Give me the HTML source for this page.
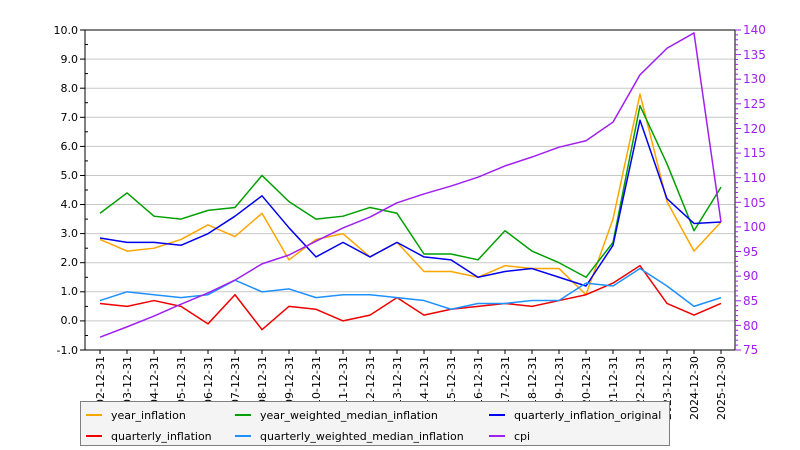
<!DOCTYPE html>
<html><head><meta charset="utf-8"><style>
html,body{margin:0;padding:0;background:#fff;}
svg{display:block;font-family:"DejaVu Sans","Liberation Sans",sans-serif;}
</style></head><body>
<svg width="800" height="450" viewBox="0 0 800 450" xmlns="http://www.w3.org/2000/svg">
<rect width="800" height="450" fill="#fff"/>
<g stroke="#c8c8c8" stroke-width="1">
<line x1="85" x2="735" y1="59.1" y2="59.1"/><line x1="85" x2="735" y1="88.2" y2="88.2"/>
<line x1="85" x2="735" y1="117.3" y2="117.3"/><line x1="85" x2="735" y1="146.4" y2="146.4"/>
<line x1="85" x2="735" y1="175.5" y2="175.5"/><line x1="85" x2="735" y1="204.5" y2="204.5"/>
<line x1="85" x2="735" y1="233.6" y2="233.6"/><line x1="85" x2="735" y1="262.7" y2="262.7"/>
<line x1="85" x2="735" y1="291.8" y2="291.8"/><line x1="85" x2="735" y1="320.9" y2="320.9"/>
</g>
<g fill="none" stroke-width="1.5" stroke-linejoin="round">
<g transform="translate(100,320.91) scale(27,-29.09)">
<polyline vector-effect="non-scaling-stroke" stroke="#ffa500" points="0,2.8 1,2.4 2,2.5 3,2.8 4,3.3 5,2.9 6,3.7 7,2.1 8,2.8 9,3.0 10,2.2 11,2.7 12,1.7 13,1.7 14,1.5 15,1.9 16,1.8 17,1.8 18,0.9 19,3.5 20,7.8 21,4.1 22,2.4 23,3.4"/>
<polyline vector-effect="non-scaling-stroke" stroke="#00a000" points="0,3.7 1,4.4 2,3.6 3,3.5 4,3.8 5,3.9 6,5.0 7,4.1 8,3.5 9,3.6 10,3.9 11,3.7 12,2.3 13,2.3 14,2.1 15,3.1 16,2.4 17,2.0 18,1.5 19,2.7 20,7.4 21,5.4 22,3.1 23,4.6"/>
<polyline vector-effect="non-scaling-stroke" stroke="#0000ee" points="0,2.85 1,2.7 2,2.7 3,2.6 4,3.0 5,3.6 6,4.3 7,3.2 8,2.2 9,2.7 10,2.2 11,2.7 12,2.2 13,2.1 14,1.5 15,1.7 16,1.8 17,1.5 18,1.2 19,2.6 20,6.9 21,4.2 22,3.35 23,3.4"/>
<polyline vector-effect="non-scaling-stroke" stroke="#ee0000" points="0,0.6 1,0.5 2,0.7 3,0.5 4,-0.1 5,0.9 6,-0.3 7,0.5 8,0.4 9,0.0 10,0.2 11,0.8 12,0.2 13,0.4 14,0.5 15,0.6 16,0.5 17,0.7 18,0.9 19,1.3 20,1.9 21,0.6 22,0.2 23,0.6"/>
<polyline vector-effect="non-scaling-stroke" stroke="#1e90ff" points="0,0.7 1,1.0 2,0.9 3,0.8 4,0.9 5,1.4 6,1.0 7,1.1 8,0.8 9,0.9 10,0.9 11,0.8 12,0.7 13,0.4 14,0.6 15,0.6 16,0.7 17,0.7 18,1.3 19,1.2 20,1.8 21,1.2 22,0.5 23,0.8"/>
</g>
<g transform="translate(100,719.23) scale(27,-4.923)">
<polyline vector-effect="non-scaling-stroke" stroke="#a020f0" points="0,77.6 1,79.7 2,81.9 3,84.3 4,86.6 5,89.2 6,92.5 7,94.3 8,97.1 9,99.8 10,102 11,104.9 12,106.7 13,108.3 14,110.1 15,112.4 16,114.2 17,116.2 18,117.5 19,121.3 20,130.9 21,136.3 22,139.4 23,101"/>
</g>
</g>
<rect x="85" y="30" width="650" height="320" fill="none" stroke="#000" stroke-width="1"/>
<g stroke="#000">
<line x1="80" x2="85" y1="30" y2="30"/><line x1="80" x2="85" y1="59.1" y2="59.1"/><line x1="80" x2="85" y1="88.2" y2="88.2"/><line x1="80" x2="85" y1="117.3" y2="117.3"/><line x1="80" x2="85" y1="146.4" y2="146.4"/><line x1="80" x2="85" y1="175.5" y2="175.5"/><line x1="80" x2="85" y1="204.5" y2="204.5"/><line x1="80" x2="85" y1="233.6" y2="233.6"/><line x1="80" x2="85" y1="262.7" y2="262.7"/><line x1="80" x2="85" y1="291.8" y2="291.8"/><line x1="80" x2="85" y1="320.9" y2="320.9"/><line x1="80" x2="85" y1="350" y2="350"/>
<line x1="85" x2="88" y1="44.5" y2="44.5"/><line x1="85" x2="88" y1="73.6" y2="73.6"/><line x1="85" x2="88" y1="102.7" y2="102.7"/><line x1="85" x2="88" y1="131.8" y2="131.8"/><line x1="85" x2="88" y1="160.9" y2="160.9"/><line x1="85" x2="88" y1="190" y2="190"/><line x1="85" x2="88" y1="219.1" y2="219.1"/><line x1="85" x2="88" y1="248.2" y2="248.2"/><line x1="85" x2="88" y1="277.3" y2="277.3"/><line x1="85" x2="88" y1="306.4" y2="306.4"/><line x1="85" x2="88" y1="335.5" y2="335.5"/>
</g>
<g fill="#000" font-size="11" text-anchor="end">
<text x="78" y="34">10.0</text><text x="78" y="63">9.0</text><text x="78" y="92">8.0</text><text x="78" y="121">7.0</text><text x="78" y="150">6.0</text><text x="78" y="179">5.0</text><text x="78" y="208">4.0</text><text x="78" y="237">3.0</text><text x="78" y="266">2.0</text><text x="78" y="295">1.0</text><text x="78" y="324">0.0</text><text x="78" y="354">-1.0</text>
</g>
<g stroke="#a020f0">
<line x1="735" x2="741" y1="30" y2="30"/><line x1="735" x2="741" y1="54.6" y2="54.6"/><line x1="735" x2="741" y1="79.2" y2="79.2"/><line x1="735" x2="741" y1="103.8" y2="103.8"/><line x1="735" x2="741" y1="128.5" y2="128.5"/><line x1="735" x2="741" y1="153.1" y2="153.1"/><line x1="735" x2="741" y1="177.7" y2="177.7"/><line x1="735" x2="741" y1="202.3" y2="202.3"/><line x1="735" x2="741" y1="226.9" y2="226.9"/><line x1="735" x2="741" y1="251.5" y2="251.5"/><line x1="735" x2="741" y1="276.2" y2="276.2"/><line x1="735" x2="741" y1="300.8" y2="300.8"/><line x1="735" x2="741" y1="325.4" y2="325.4"/><line x1="735" x2="741" y1="350" y2="350"/>
</g>
<path d="M735 34.9h3M735 39.8h3M735 44.8h3M735 49.7h3M735 59.5h3M735 64.4h3M735 69.4h3M735 74.3h3M735 84.1h3M735 89.1h3M735 94h3M735 98.9h3M735 108.8h3M735 113.7h3M735 118.6h3M735 123.5h3M735 133.4h3M735 138.3h3M735 143.2h3M735 148.2h3M735 158h3M735 162.9h3M735 167.9h3M735 172.8h3M735 182.6h3M735 187.6h3M735 192.5h3M735 197.4h3M735 207.2h3M735 212.2h3M735 217.1h3M735 222h3M735 231.8h3M735 236.8h3M735 241.7h3M735 246.6h3M735 256.5h3M735 261.4h3M735 266.3h3M735 271.2h3M735 281.1h3M735 286h3M735 290.9h3M735 295.9h3M735 305.7h3M735 310.6h3M735 315.6h3M735 320.5h3M735 330.3h3M735 335.3h3M735 340.2h3M735 345.1h3" stroke="#a020f0"/>
<g fill="#a020f0" font-size="12">
<text x="743" y="34">140</text><text x="743" y="59">135</text><text x="743" y="83">130</text><text x="743" y="108">125</text><text x="743" y="133">120</text><text x="743" y="157">115</text><text x="743" y="182">110</text><text x="743" y="207">105</text><text x="743" y="231">100</text><text x="743" y="256">95</text><text x="743" y="280">90</text><text x="743" y="305">85</text><text x="743" y="330">80</text><text x="743" y="354">75</text>
</g>
<g stroke="#000">
<line x1="100" x2="100" y1="350" y2="354"/><line x1="127" x2="127" y1="350" y2="354"/><line x1="154" x2="154" y1="350" y2="354"/><line x1="181" x2="181" y1="350" y2="354"/><line x1="208" x2="208" y1="350" y2="354"/><line x1="235" x2="235" y1="350" y2="354"/><line x1="262" x2="262" y1="350" y2="354"/><line x1="289" x2="289" y1="350" y2="354"/><line x1="316" x2="316" y1="350" y2="354"/><line x1="343" x2="343" y1="350" y2="354"/><line x1="370" x2="370" y1="350" y2="354"/><line x1="397" x2="397" y1="350" y2="354"/><line x1="424" x2="424" y1="350" y2="354"/><line x1="451" x2="451" y1="350" y2="354"/><line x1="478" x2="478" y1="350" y2="354"/><line x1="505" x2="505" y1="350" y2="354"/><line x1="532" x2="532" y1="350" y2="354"/><line x1="559" x2="559" y1="350" y2="354"/><line x1="586" x2="586" y1="350" y2="354"/><line x1="613" x2="613" y1="350" y2="354"/><line x1="640" x2="640" y1="350" y2="354"/><line x1="667" x2="667" y1="350" y2="354"/><line x1="694" x2="694" y1="350" y2="354"/><line x1="721" x2="721" y1="350" y2="354"/>
</g>
<g fill="#000" font-size="11" text-anchor="end">
<text transform="translate(104,356) rotate(-90)">2002-12-31</text><text transform="translate(131,356) rotate(-90)">2003-12-31</text><text transform="translate(158,356) rotate(-90)">2004-12-31</text><text transform="translate(185,356) rotate(-90)">2005-12-31</text><text transform="translate(212,356) rotate(-90)">2006-12-31</text><text transform="translate(239,356) rotate(-90)">2007-12-31</text><text transform="translate(266,356) rotate(-90)">2008-12-31</text><text transform="translate(293,356) rotate(-90)">2009-12-31</text><text transform="translate(320,356) rotate(-90)">2010-12-31</text><text transform="translate(347,356) rotate(-90)">2011-12-31</text><text transform="translate(374,356) rotate(-90)">2012-12-31</text><text transform="translate(401,356) rotate(-90)">2013-12-31</text><text transform="translate(428,356) rotate(-90)">2014-12-31</text><text transform="translate(455,356) rotate(-90)">2015-12-31</text><text transform="translate(482,356) rotate(-90)">2016-12-31</text><text transform="translate(509,356) rotate(-90)">2017-12-31</text><text transform="translate(536,356) rotate(-90)">2018-12-31</text><text transform="translate(563,356) rotate(-90)">2019-12-31</text><text transform="translate(590,356) rotate(-90)">2020-12-31</text><text transform="translate(617,356) rotate(-90)">2021-12-31</text><text transform="translate(644,356) rotate(-90)">2022-12-31</text><text transform="translate(671,356) rotate(-90)">2023-12-31</text><text transform="translate(698,356) rotate(-90)">2024-12-30</text><text transform="translate(725,356) rotate(-90)">2025-12-30</text>
</g>
<rect x="80.5" y="401.5" width="589" height="44" fill="#f4f4f4" stroke="#808080"/>
<g stroke-width="2">
<line x1="86" x2="102" y1="415" y2="415" stroke="#ffa500"/><line x1="235" x2="251" y1="415" y2="415" stroke="#00a000"/><line x1="489" x2="505" y1="415" y2="415" stroke="#0000ee"/>
<line x1="86" x2="102" y1="436" y2="436" stroke="#ee0000"/><line x1="235" x2="251" y1="436" y2="436" stroke="#1e90ff"/><line x1="489" x2="505" y1="436" y2="436" stroke="#a020f0"/>
</g>
<g fill="#000" font-size="11">
<text x="111" y="419">year_inflation</text><text x="260" y="419">year_weighted_median_inflation</text><text x="514" y="419">quarterly_inflation_original</text>
<text x="111" y="440">quarterly_inflation</text><text x="260" y="440">quarterly_weighted_median_inflation</text><text x="514" y="440">cpi</text>
</g>
</svg>
</body></html>
